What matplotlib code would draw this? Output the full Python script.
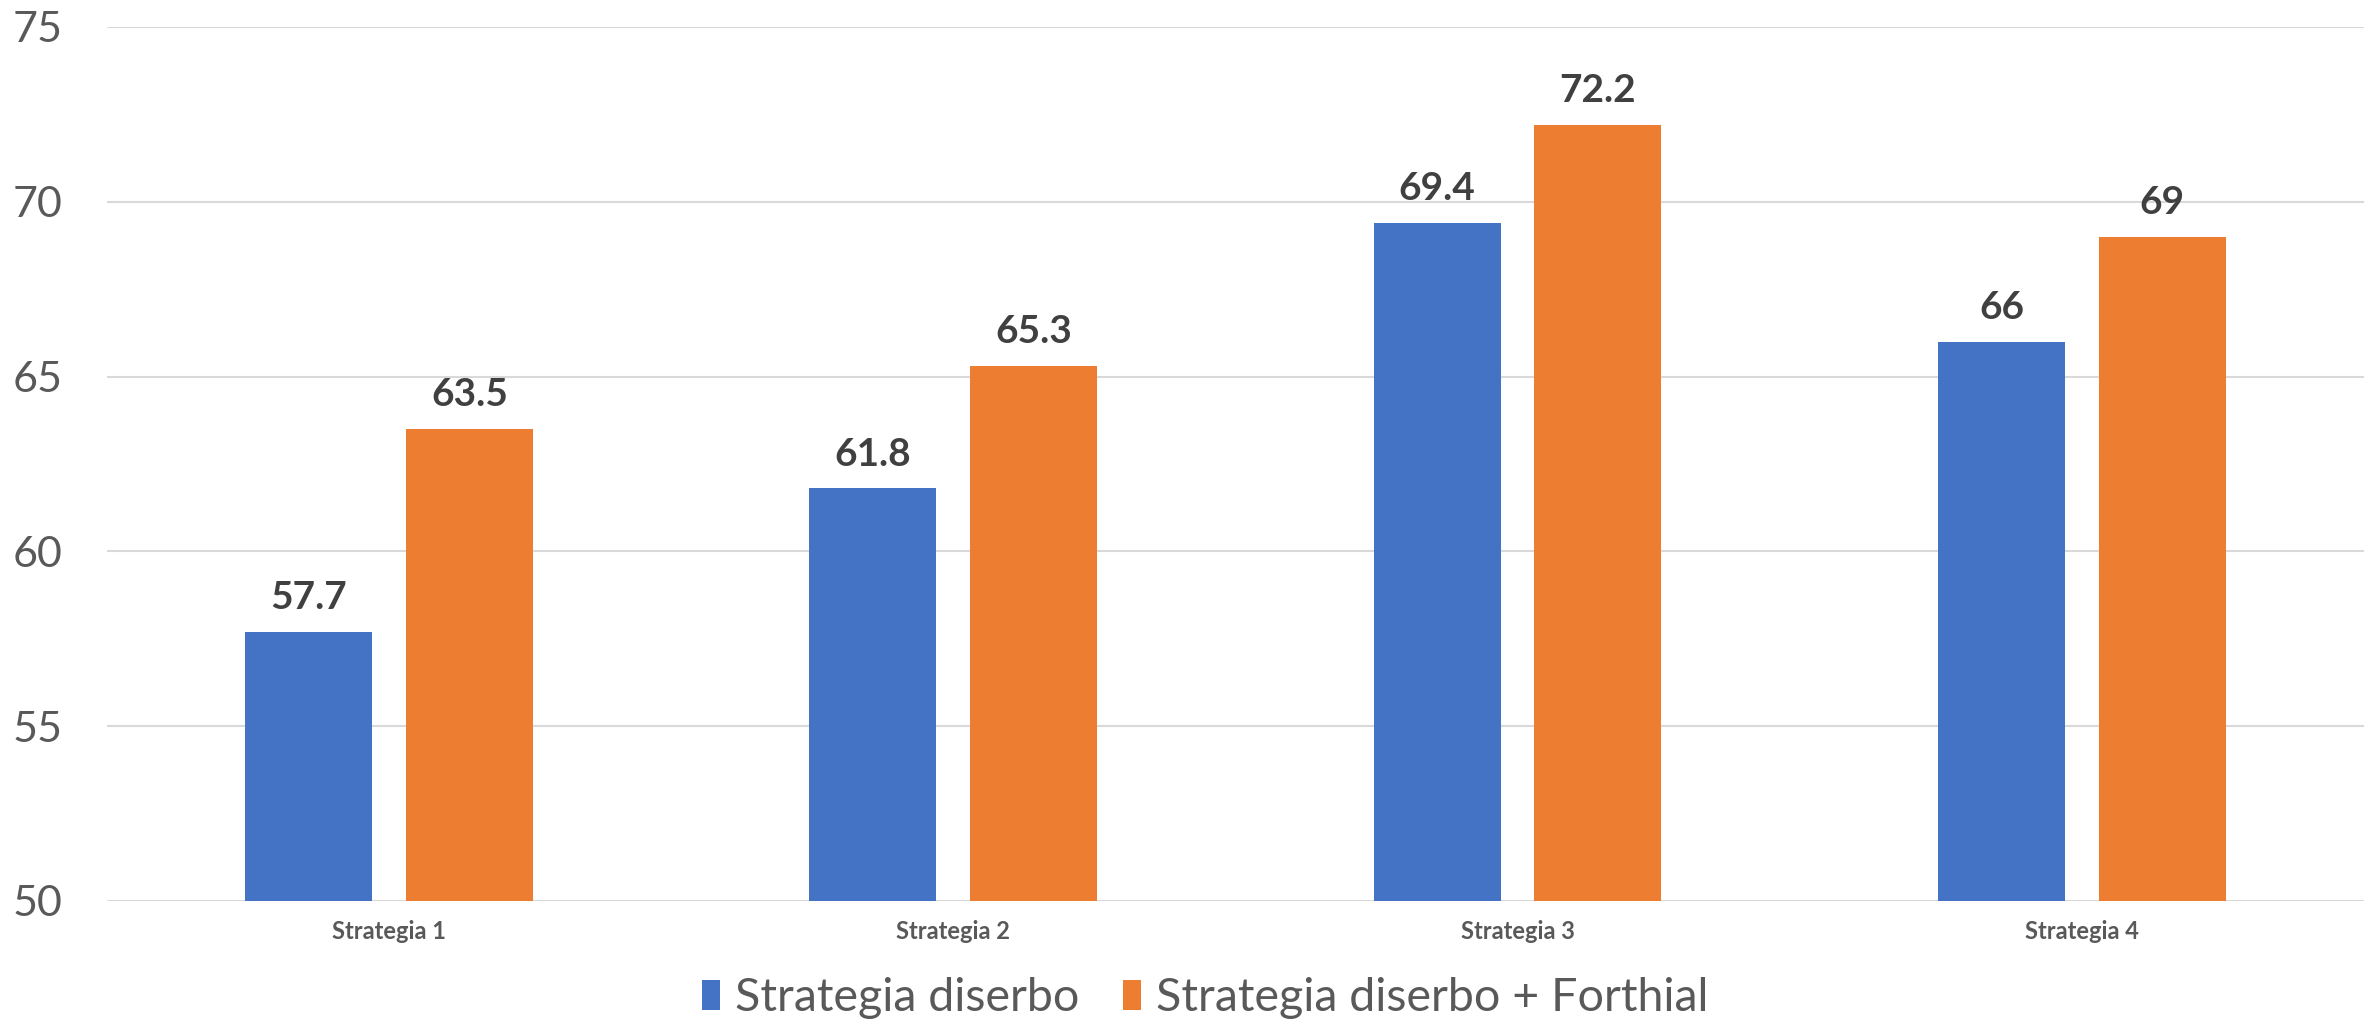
import matplotlib
matplotlib.use("Agg")
import matplotlib.pyplot as plt
import numpy as np

categories = ["Strategia 1", "Strategia 2", "Strategia 3", "Strategia 4"]
series_names = ["Strategia diserbo", "Strategia diserbo + Forthial"]
values_diserbo = [57.7, 61.8, 69.4, 66]
values_forthial = [63.5, 65.3, 72.2, 69]
yticks = [50, 55, 60, 65, 70, 75]

plt.rcParams['font.family'] = ['Lato', 'DejaVu Sans']

fig = plt.figure(figsize=(23.77, 10.25), dpi=100)
ax = fig.add_axes([0.045, 0.121, 0.9495, 0.8527])

x = np.arange(len(categories))
w = 0.225
off = 0.1425
b1 = ax.bar(x - off, values_diserbo, w, color="#4472C4", label=series_names[0], zorder=3)
b2 = ax.bar(x + off, values_forthial, w, color="#ED7D31", label=series_names[1], zorder=3)

for bars in (b1, b2):
    ax.bar_label(bars, fmt='%g', padding=12, fontsize=28, fontweight='bold', color="#404040")

ax.set_ylim(50, 75)
ax.set_xlim(-0.5, 3.5)
ax.set_yticks(yticks)
ax.set_yticklabels([str(t) for t in yticks])
ax.set_xticks(x)
ax.set_xticklabels(categories, fontsize=17, fontweight='bold', color="#595959")
ax.tick_params(axis='y', length=0, pad=32, labelsize=31, labelcolor="#595959")
ax.tick_params(axis='x', length=0, pad=14)
ax.grid(axis='y', color="#D9D9D9", linewidth=1.5, zorder=0)
for s in ax.spines.values():
    s.set_visible(False)

fig.legend(handles=[b1, b2], labels=series_names, loc='center', bbox_to_anchor=(0.507, 0.026),
           ncol=2, frameon=False, fontsize=33.5, labelcolor="#595959",
           handlelength=0.39, handleheight=0.6, handletextpad=0.32, columnspacing=0.95)

fig.savefig("out.png", dpi=100)
